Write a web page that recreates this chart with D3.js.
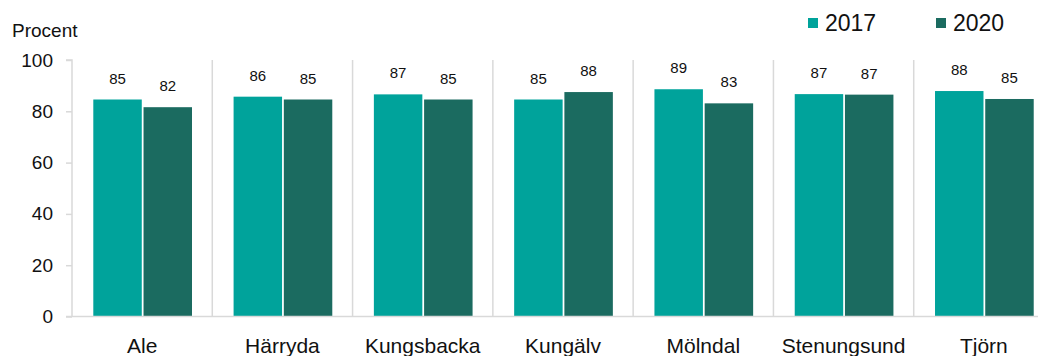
<!DOCTYPE html>
<html>
<head>
<meta charset="utf-8">
<script src="https://cdn.jsdelivr.net/npm/d3@7"></script>
<style>
  html, body { margin: 0; padding: 0; background: #fff; }
  svg { display: block; font-family: "Liberation Sans", Arial, sans-serif; }
</style>
</head>
<body>
<svg id="chart" width="1038" height="356"></svg>
<script>
const categories = ["Ale", "Härryda", "Kungsbacka", "Kungälv", "Mölndal", "Stenungsund", "Tjörn"];
const years = ["2017", "2020"];
const values2017 = [84.6, 85.7, 86.6, 84.6, 88.6, 86.7, 87.9];
const values2020 = [81.6, 84.6, 84.6, 87.5, 83.1, 86.5, 84.8];
const yTicks = [0, 20, 40, 60, 80, 100];
const yTitle = "Procent";
const colors = ["#00a39b", "#1b6b60"];

const series = [values2017, values2020];
const data = categories.map((c, i) => ({
  cat: c,
  vals: years.map((y, j) => ({ year: y, value: series[j][i], color: colors[j] }))
}));

const svg = d3.select("#chart");
const mLeft = 72, mRight = 1054, mTop = 60, mBottom = 316.5;

const x0 = d3.scaleBand().domain(categories).range([mLeft, mRight]).padding(0);
const x1 = d3.scaleBand().domain(years).range([21.3, 120]).paddingInner(0.035);
const y = d3.scaleLinear().domain([0, 100]).range([mBottom, mTop]);

const grey = "#d9d9d9";

// y axis
const yAxis = d3.axisLeft(y).tickValues(yTicks).tickSize(6).tickPadding(13);
const gy = svg.append("g").attr("transform", `translate(${mLeft},0)`).call(yAxis);
gy.select(".domain").attr("stroke", grey).attr("stroke-width", 1.5).attr("d", `M-6,${y(100)}H0V${y(0)}`);
gy.selectAll(".tick line").attr("stroke", grey).attr("stroke-width", 1.5);
gy.selectAll(".tick text").attr("font-size", 19).attr("fill", "#111").attr("font-family", "'Liberation Sans', Arial, sans-serif");

// separators
svg.append("g").selectAll("line").data(categories.slice(1)).join("line")
  .attr("x1", d => x0(d)).attr("x2", d => x0(d))
  .attr("y1", y(100)).attr("y2", y(0))
  .attr("stroke", grey).attr("stroke-width", 1.5);

// bars
const groups = svg.append("g").selectAll("g").data(data).join("g")
  .attr("transform", d => `translate(${x0(d.cat)},0)`);
groups.selectAll("rect").data(d => d.vals).join("rect")
  .attr("x", d => x1(d.year))
  .attr("width", x1.bandwidth())
  .attr("y", d => y(d.value))
  .attr("height", d => y(0) - y(d.value))
  .attr("fill", d => d.color);
groups.selectAll("text").data(d => d.vals).join("text")
  .attr("x", d => x1(d.year) + x1.bandwidth() / 2)
  .attr("y", d => y(d.value) - 16)
  .attr("text-anchor", "middle")
  .attr("font-size", 15)
  .attr("fill", "#111")
  .text(d => d3.format(".0f")(d.value));

// baseline
svg.append("line").attr("x1", mLeft - 6).attr("x2", mRight)
  .attr("y1", y(0)).attr("y2", y(0)).attr("stroke", grey).attr("stroke-width", 1.5);

// category labels
const xAxis = d3.axisBottom(x0).tickSize(0).tickPadding(0);
const gx = svg.append("g").attr("transform", `translate(0,${y(0)})`).call(xAxis);
gx.select(".domain").remove();
gx.selectAll(".tick text").attr("font-size", 21).attr("fill", "#111")
  .attr("dy", 0).attr("y", 36).attr("font-family", "'Liberation Sans', Arial, sans-serif");

// y title
svg.append("text").attr("x", 12).attr("y", 37).attr("font-size", 19).attr("fill", "#111").text(yTitle);

// legend
const legendX = [808, 936];
const leg = svg.append("g").selectAll("g").data(years).join("g")
  .attr("transform", (d, i) => `translate(${legendX[i]},18)`);
leg.append("rect").attr("width", 10).attr("height", 10).attr("fill", (d, i) => colors[i]);
leg.append("text").attr("x", 17).attr("y", 13).attr("font-size", 23).attr("fill", "#111").text(d => d);
</script>
</body>
</html>
